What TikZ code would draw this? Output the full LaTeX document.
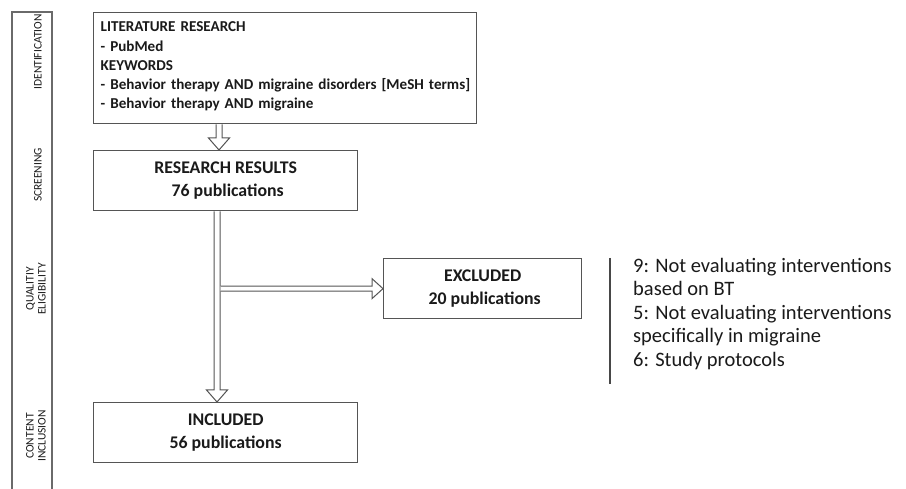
\documentclass[tikz,border=0pt]{standalone}
\usepackage{fontspec}
\setmainfont{Carlito}
\usetikzlibrary{calc}
\definecolor{boxgray}{HTML}{555555}
\definecolor{panelgray}{HTML}{6A6A6A}
\definecolor{txt}{HTML}{1A1A1A}
\begin{document}
\begin{tikzpicture}[x=1pt,y=-1pt,
  box/.style={draw=boxgray, line width=1.3pt, rectangle, inner sep=0pt, anchor=north west, align=center, text=txt},
  boxtext/.style={font=\fontsize{17.8}{23}\selectfont\bfseries},
  hollow/.style={draw=boxgray, line width=1pt, fill=white, line join=miter},
  panel/.style={draw=panelgray, line width=1.3pt},
  lab/.style={rotate=90, align=center, text=txt, font=\fontsize{11.5}{12}\selectfont, inner sep=0pt},
  rule/.style={draw=txt!80, line width=2pt},
  notes/.style={anchor=north west, align=left, text=txt, inner sep=0pt, font=\fontsize{20.5}{23.5}\selectfont}]
\useasboundingbox (0,0) rectangle (906,489);
\fill[white] (0,0) rectangle (906,489);

% left stage panel
\coordinate (pbl) at (12,489);
\coordinate (ptl) at (12,12);
\coordinate (ptr) at (52,12);
\coordinate (pbr) at (52,489);
\draw[panel] (pbl) -- (ptl) -- (ptr) -- (pbr);
\node[lab] (idn) at (38,52) {IDENTIFICATION};
\node[lab] (scr) at (38,175) {SCREENING};
\node[lab] (qel) at (36,289) {QUALITIY\\ELIGIBILITY};
\node[lab] (cin) at (36,436) {CONTENT\\INCLUSION};

% boxes
\node[box, minimum width=383, minimum height=111, text width=376, inner xsep=3.5, align=left,
      font=\fontsize{15.1}{19.2}\selectfont\bfseries] (lit) at (93,12)
  {\hspace*{3.5pt}LITERATURE RESEARCH\\\hspace*{3.5pt}- PubMed\\\hspace*{3.5pt}KEYWORDS\\\hspace*{3.5pt}- Behavior therapy AND migraine disorders [MeSH terms]\\\hspace*{3.5pt}- Behavior therapy AND migraine\vspace*{3pt}};
\node[box, boxtext, minimum width=264, minimum height=60] (res) at (93,150)
  {RESEARCH RESULTS\\\ 76 publications};
\node[box, boxtext, minimum width=198, minimum height=60] (exc) at (383,258)
  {EXCLUDED\\\ 20 publications};
\node[box, boxtext, minimum width=264, minimum height=60] (inc) at (93,402)
  {INCLUDED\\56 publications};

% hollow arrows
\coordinate (ax1) at (219,0);
\coordinate (ax2) at (217,0);
\coordinate (p1) at (ax1 |- lit.south);
\coordinate (q1) at (ax1 |- res.north);
\draw[hollow] ($(p1)+(-3,0)$) -- ($(q1)+(-3,-12)$) -- ($(q1)+(-10.5,-12)$) -- (q1)
  -- ($(q1)+(10.5,-12)$) -- ($(q1)+(3,-12)$) -- ($(p1)+(3,0)$);
\coordinate (p2) at (ax2 |- res.south);
\coordinate (q2) at (ax2 |- inc.north);
\draw[hollow] ($(p2)+(-3,0)$) -- ($(q2)+(-3,-12)$) -- ($(q2)+(-10.5,-12)$) -- (q2)
  -- ($(q2)+(10.5,-12)$) -- ($(q2)+(3,-12)$) -- ($(p2)+(3,0)$);
\coordinate (p3) at ($(ax2 |- exc.west)+(3.6,0)$);
\coordinate (q3) at (exc.west);
\draw[hollow] ($(p3)+(0,-2.6)$) -- ($(q3)+(-11,-2.6)$) -- ($(q3)+(-11,-10)$) -- (q3)
  -- ($(q3)+(-11,10)$) -- ($(q3)+(-11,2.6)$) -- ($(p3)+(0,2.6)$);

% exclusion reasons
\node[notes] (reasons) at (633,258)
  {9: Not evaluating interventions\\based on BT\\5: Not evaluating interventions\\specifically in migraine\\6: Study protocols};
\draw[rule] ($(reasons.north west)+(-23,0)$) -- ($(reasons.south west)+(-23,14)$);
\end{tikzpicture}
\end{document}
